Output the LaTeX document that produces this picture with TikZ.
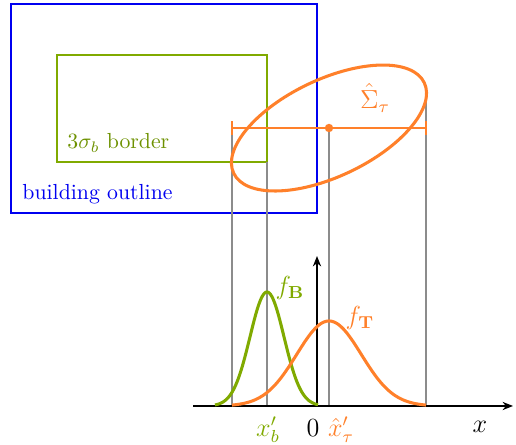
\documentclass[tikz,border=0pt]{standalone}
\usetikzlibrary{arrows.meta}
\definecolor{bgreen}{RGB}{128,170,0}
\definecolor{torange}{RGB}{255,128,42}
\definecolor{bblue}{RGB}{0,0,240}
\begin{document}
\begin{tikzpicture}[x=0.459pt,y=0.459pt,
  guide/.style={draw=gray!90, line width=0.5pt},
  axisline/.style={draw=black, line width=0.6pt, -{Stealth[length=4.8pt,width=3.8pt]}},
  curve/.style={line width=1.4pt},
  lbl/.style={inner sep=0pt},
  mlbl/.style={inner sep=0pt, font=\large}]
\useasboundingbox (0,0) rectangle (516,445);
% building outline and border
\draw[bblue, line width=0.9pt] (11,441) rectangle (317,232);
\draw[bgreen, line width=0.7pt] (57,390) rectangle (267,283);
\node[lbl, anchor=west, text=bgreen!85!black] (border) at (67,302) {$3\sigma_b$ border};
\node[lbl, anchor=west, text=bblue] (bout) at (22,251) {building outline};
% guide lines
\coordinate (gA) at (232,317); \coordinate (gAb) at (232,39);
\coordinate (gB) at (267,283); \coordinate (gBb) at (267,39);
\coordinate (gC) at (329,317); \coordinate (gCb) at (329,39);
\coordinate (gD) at (426,353); \coordinate (gDb) at (426,39);
\draw[guide] (gA) -- (gAb);
\draw[guide] (gB) -- (gBb);
\draw[guide] (gC) -- (gCb);
\draw[guide] (gD) -- (gDb);
% ellipse
\coordinate (ctr) at (329,317);
\draw[torange, line width=1.4pt, rotate around={25.4:(ctr)}] (ctr) ellipse (105.5 and 48.5);
\coordinate (hl) at (232,317); \coordinate (hr) at (426,317);
\draw[torange, line width=1.2pt] (hl) -- (hr);
\draw[torange, line width=0.6pt] (232,310) -- (232,324);
\draw[torange, line width=0.6pt] (426,310) -- (426,324);
\fill[torange] (ctr) circle (4.2);
\node[mlbl, text=torange] (sig) at (375,347) {$\hat{\Sigma}_\tau$};
% axes
\coordinate (xa) at (193,39); \coordinate (xb) at (513,39);
\coordinate (ya) at (317,39); \coordinate (yb) at (317,189);
\draw[axisline] (xa) -- (xb);
\draw[axisline] (ya) -- (yb);
% curves
\draw[bgreen, curve] plot[domain=215:318, samples=90] (\x, {39+114*exp(-((\x-267)/17)^2/2)});
\draw[torange, curve] plot[domain=232:426, samples=120] (\x, {39+85*exp(-((\x-329)/32.3)^2/2)});
\node[mlbl, text=bgreen] (fb) at (290,157) {$f_{\mathbf{B}}$};
\node[mlbl, text=torange] (ft) at (360,127) {$f_{\mathbf{T}}$};
% axis labels
\node[mlbl, text=bgreen] (xbl) at (268,15) {$x'_b$};
\node[mlbl] (zero) at (313,17) {$0$};
\node[mlbl, text=torange] (xtl) at (341,15) {$\hat{x}'_\tau$};
\node[mlbl] (xl) at (480,18) {$x$};
\end{tikzpicture}
\end{document}
